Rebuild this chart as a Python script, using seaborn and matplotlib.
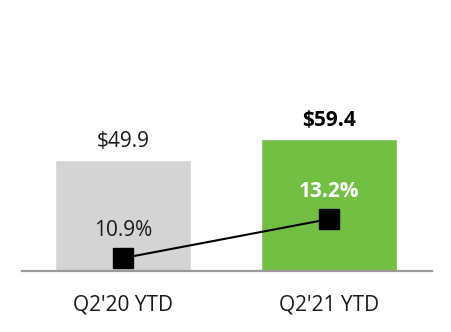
import matplotlib
matplotlib.use("Agg")
import matplotlib.pyplot as plt
import seaborn as sns
import pandas as pd

# Revenue ($) and margin (%) for the two year-to-date periods
periods = ["Q2'20 YTD", "Q2'21 YTD"]
revenue = [49.9, 59.4]
margin = [10.9, 13.2]
bar_colors = ["#d4d4d4", "#72bf44"]

sns.set_theme(style="white")
plt.rcParams["font.family"] = ["Open Sans", "DejaVu Sans"]

df = pd.DataFrame({"period": periods, "revenue": revenue, "margin": margin})

fig = plt.figure(figsize=(4.52, 3.32), dpi=100)
ax = fig.add_axes([22 / 452, 61 / 332, 410 / 452, 271 / 332])

sns.barplot(data=df, x="period", y="revenue", hue="period",
            palette=bar_colors, width=0.66, saturation=1,
            legend=False, ax=ax)
ax.set_xlim(-0.49, 1.5)
ax.set_ylim(0, 121.5)

# Revenue labels above the bars
for i, v in enumerate(revenue):
    ax.annotate(f"${v}", (i, v), xytext=(0, 13), textcoords="offset points",
                ha="center", va="center", fontsize=15,
                color="#1a1a1a" if i == 0 else "#000000",
                fontweight="normal" if i == 0 else "bold")

# Margin line on a secondary axis
ax2 = ax.twinx()
ax2.plot(range(len(periods)), margin, color="black", linewidth=1.5,
         marker="s", markersize=14.5, markerfacecolor="black",
         markeredgecolor="black")
ax2.set_ylim(10.14, 10.14 + 271 / 16.96)
ax2.set_xlim(-0.49, 1.5)
for i, m in enumerate(margin):
    ax2.annotate(f"{m}%", (i, m), xytext=(0, 20), textcoords="offset points",
                 ha="center", va="center", fontsize=15,
                 color="#1a1a1a" if i == 0 else "white",
                 fontweight="normal" if i == 0 else "bold")
ax2.set_yticks([])

for a in (ax, ax2):
    for side in ("top", "right", "left", "bottom"):
        a.spines[side].set_visible(False)
ax.spines["bottom"].set_visible(True)
ax.spines["bottom"].set_color("#9a9a9a")
ax.spines["bottom"].set_linewidth(1.6)

ax.set_yticks([])
ax.set_xlabel("")
ax.set_ylabel("")
ax.tick_params(axis="x", length=0, pad=17, labelsize=15, labelcolor="#1a1a1a")

fig.savefig("out.png", dpi=100)
